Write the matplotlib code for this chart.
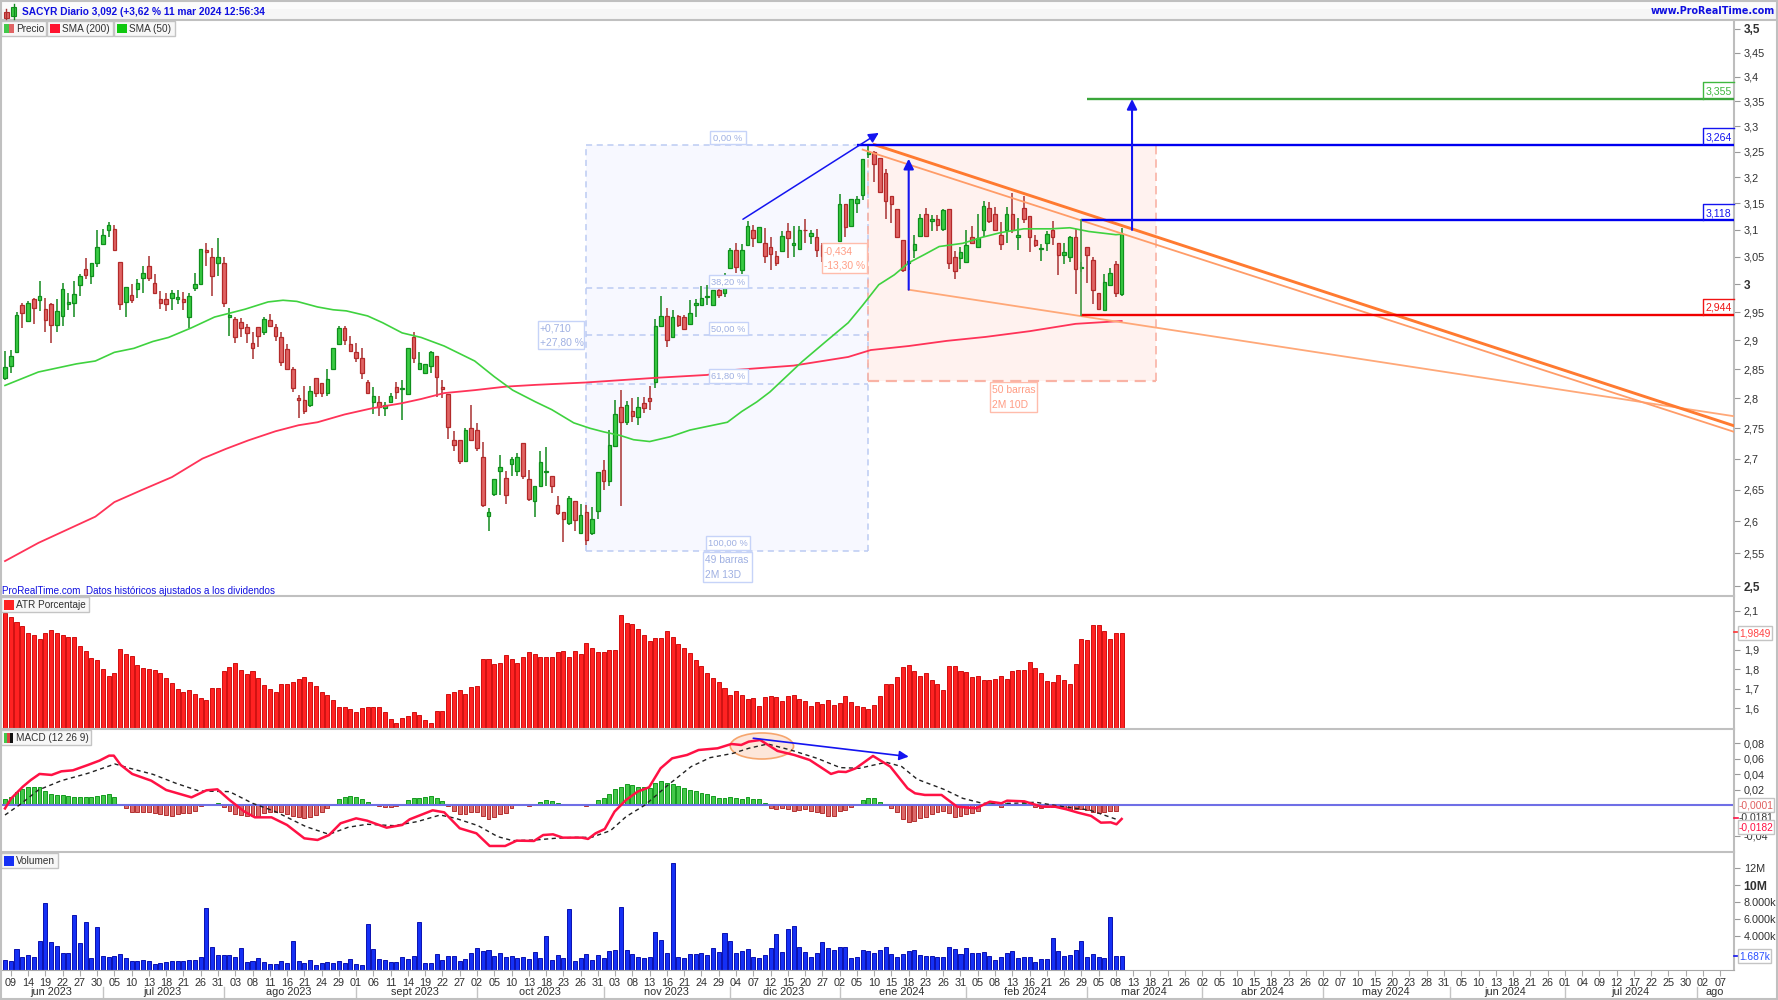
import matplotlib
matplotlib.use('Agg')
import matplotlib.pyplot as plt
from matplotlib.patches import Rectangle, Ellipse
from matplotlib.ticker import NullLocator

plt.rcParams['font.family'] = ['Liberation Sans', 'DejaVu Sans']

# daily candles, 195 sessions
opens = [2.834, 2.856, 2.879, 2.962, 2.934, 2.973, 2.972, 2.955, 2.964, 2.927,
         2.943, 2.964, 2.966, 2.999, 3.028, 3.014, 3.039, 3.073, 3.100, 3.102,
         3.041, 2.968, 2.980, 2.991, 3.012, 3.034, 3.002, 2.973, 2.973, 2.975,
         2.973, 2.973, 2.941, 2.993, 3.001, 3.063, 3.049, 3.039, 3.039, 2.941,
         2.938, 2.933, 2.924, 2.896, 2.924, 2.914, 2.936, 2.924, 2.905, 2.885,
         2.851, 2.800, 2.797, 2.789, 2.835, 2.826, 2.809, 2.851, 2.894, 2.922,
         2.894, 2.879, 2.870, 2.828, 2.794, 2.794, 2.783, 2.794, 2.820, 2.816,
         2.807, 2.905, 2.851, 2.844, 2.856, 2.872, 2.820, 2.807, 2.730, 2.731,
         2.696, 2.750, 2.747, 2.703, 2.608, 2.643, 2.680, 2.669, 2.691, 2.680,
         2.725, 2.667, 2.632, 2.656, 2.679, 2.672, 2.626, 2.615, 2.597, 2.632,
         2.581, 2.615, 2.581, 2.616, 2.682, 2.663, 2.720, 2.786, 2.760, 2.779,
         2.768, 2.792, 2.800, 2.828, 2.926, 2.943, 2.905, 2.943, 2.941, 2.929,
         2.962, 2.962, 2.976, 2.962, 2.989, 2.984, 3.030, 3.063, 3.026, 3.071,
         3.099, 3.078, 3.075, 3.069, 3.052, 3.060, 3.097, 3.071, 3.065, 3.100,
         3.089, 3.087, 3.071, 3.054, 3.036, 3.080, 3.149, 3.108, 3.150, 3.166,
         3.246, 3.250, 3.238, 3.208, 3.164, 3.139, 3.082, 3.039, 3.063, 3.089,
         3.130, 3.117, 3.121, 3.102, 3.139, 3.049, 3.047, 3.041, 3.086, 3.069,
         3.100, 3.141, 3.130, 3.091, 3.100, 3.130, 3.086, 3.141, 3.126, 3.082,
         3.065, 3.076, 3.100, 3.076, 3.054, 3.049, 3.086, 3.030, 3.069, 3.045,
         2.984, 2.954, 2.999, 3.036, 2.982]
highs = [2.882, 2.883, 2.950, 2.966, 2.969, 2.975, 3.006, 2.975, 2.966, 2.973,
         3.002, 2.984, 3.006, 3.019, 3.047, 3.038, 3.099, 3.102, 3.115, 3.110,
         3.041, 2.995, 3.001, 3.010, 3.034, 3.052, 3.019, 2.987, 2.984, 2.989,
         2.989, 2.986, 2.984, 3.021, 3.065, 3.075, 3.067, 3.084, 3.050, 2.957,
         2.941, 2.940, 2.929, 2.915, 2.924, 2.941, 2.947, 2.929, 2.915, 2.894,
         2.853, 2.806, 2.821, 2.821, 2.835, 2.826, 2.851, 2.887, 2.926, 2.926,
         2.907, 2.896, 2.886, 2.832, 2.820, 2.804, 2.794, 2.809, 2.828, 2.832,
         2.887, 2.915, 2.879, 2.858, 2.881, 2.872, 2.832, 2.807, 2.746, 2.731,
         2.750, 2.789, 2.758, 2.727, 2.621, 2.667, 2.706, 2.680, 2.703, 2.709,
         2.725, 2.682, 2.656, 2.712, 2.719, 2.672, 2.639, 2.615, 2.640, 2.632,
         2.627, 2.626, 2.623, 2.679, 2.698, 2.747, 2.797, 2.815, 2.795, 2.800,
         2.802, 2.802, 2.821, 2.938, 2.978, 2.957, 2.954, 2.945, 2.945, 2.971,
         2.973, 2.997, 2.999, 2.989, 2.993, 3.021, 3.067, 3.076, 3.073, 3.117,
         3.110, 3.106, 3.104, 3.086, 3.060, 3.097, 3.113, 3.108, 3.108, 3.121,
         3.100, 3.102, 3.076, 3.063, 3.073, 3.168, 3.149, 3.158, 3.165, 3.236,
         3.262, 3.252, 3.238, 3.216, 3.164, 3.139, 3.082, 3.063, 3.091, 3.130,
         3.141, 3.128, 3.128, 3.139, 3.139, 3.060, 3.069, 3.100, 3.108, 3.130,
         3.154, 3.152, 3.143, 3.115, 3.143, 3.170, 3.123, 3.164, 3.126, 3.091,
         3.073, 3.097, 3.117, 3.076, 3.076, 3.089, 3.102, 3.041, 3.069, 3.049,
         2.984, 3.019, 3.030, 3.043, 3.104]
lows = [2.832, 2.844, 2.879, 2.921, 2.933, 2.929, 2.952, 2.915, 2.896, 2.915,
        2.926, 2.954, 2.941, 2.978, 3.010, 3.001, 3.032, 3.073, 3.086, 3.062,
        2.954, 2.941, 2.966, 2.975, 2.984, 3.006, 2.984, 2.955, 2.952, 2.954,
        2.964, 2.954, 2.921, 2.987, 3.001, 3.034, 2.978, 3.014, 2.959, 2.907,
        2.896, 2.905, 2.896, 2.868, 2.888, 2.910, 2.924, 2.898, 2.856, 2.849,
        2.811, 2.767, 2.773, 2.786, 2.802, 2.802, 2.804, 2.851, 2.892, 2.892,
        2.881, 2.863, 2.833, 2.807, 2.773, 2.771, 2.770, 2.792, 2.799, 2.763,
        2.807, 2.861, 2.849, 2.844, 2.844, 2.802, 2.800, 2.733, 2.712, 2.691,
        2.695, 2.730, 2.712, 2.623, 2.584, 2.639, 2.642, 2.627, 2.672, 2.672,
        2.667, 2.632, 2.607, 2.656, 2.656, 2.645, 2.610, 2.568, 2.594, 2.584,
        2.581, 2.563, 2.579, 2.603, 2.650, 2.656, 2.720, 2.624, 2.755, 2.760,
        2.755, 2.775, 2.781, 2.818, 2.926, 2.889, 2.905, 2.924, 2.919, 2.929,
        2.941, 2.962, 2.962, 2.962, 2.975, 2.976, 3.030, 3.021, 3.019, 3.071,
        3.069, 3.078, 3.038, 3.026, 3.034, 3.060, 3.047, 3.050, 3.065, 3.076,
        3.073, 3.049, 3.041, 3.019, 3.030, 3.080, 3.087, 3.108, 3.132, 3.156,
        3.238, 3.191, 3.170, 3.121, 3.113, 3.087, 3.023, 3.026, 3.047, 3.087,
        3.089, 3.097, 3.097, 3.097, 3.028, 3.010, 3.028, 3.041, 3.075, 3.069,
        3.087, 3.113, 3.097, 3.062, 3.076, 3.095, 3.063, 3.112, 3.058, 3.069,
        3.043, 3.060, 3.071, 3.017, 3.036, 3.041, 2.982, 3.023, 3.002, 2.964,
        2.954, 2.952, 2.997, 2.976, 2.978]
closes = [2.853, 2.872, 2.945, 2.948, 2.966, 2.957, 2.978, 2.936, 2.927, 2.952,
          2.991, 2.968, 2.982, 3.015, 3.017, 3.038, 3.069, 3.091, 3.110, 3.062,
          2.964, 2.995, 2.971, 3.002, 3.021, 3.012, 2.984, 2.966, 2.964, 2.984,
          2.976, 2.968, 2.978, 3.001, 3.065, 3.058, 3.014, 3.050, 2.966, 2.945,
          2.905, 2.921, 2.912, 2.886, 2.907, 2.938, 2.926, 2.908, 2.863, 2.851,
          2.818, 2.797, 2.778, 2.812, 2.809, 2.809, 2.833, 2.887, 2.922, 2.900,
          2.881, 2.870, 2.844, 2.809, 2.804, 2.786, 2.789, 2.804, 2.811, 2.818,
          2.887, 2.870, 2.861, 2.858, 2.879, 2.837, 2.816, 2.752, 2.722, 2.696,
          2.747, 2.730, 2.717, 2.626, 2.615, 2.667, 2.687, 2.642, 2.699, 2.703,
          2.671, 2.635, 2.656, 2.695, 2.680, 2.655, 2.612, 2.603, 2.637, 2.602,
          2.610, 2.571, 2.604, 2.679, 2.663, 2.722, 2.773, 2.760, 2.789, 2.771,
          2.785, 2.784, 2.795, 2.926, 2.943, 2.900, 2.941, 2.927, 2.919, 2.948,
          2.966, 2.975, 2.978, 2.989, 2.980, 2.993, 3.063, 3.032, 3.063, 3.108,
          3.084, 3.106, 3.052, 3.056, 3.039, 3.089, 3.084, 3.076, 3.100, 3.099,
          3.095, 3.063, 3.052, 3.030, 3.067, 3.149, 3.106, 3.158, 3.158, 3.236,
          3.250, 3.226, 3.172, 3.154, 3.149, 3.087, 3.026, 3.043, 3.073, 3.123,
          3.089, 3.121, 3.110, 3.137, 3.038, 3.024, 3.058, 3.071, 3.075, 3.084,
          3.145, 3.117, 3.100, 3.073, 3.130, 3.100, 3.091, 3.121, 3.086, 3.071,
          3.067, 3.093, 3.086, 3.054, 3.058, 3.086, 3.028, 3.032, 3.054, 2.989,
          2.955, 3.004, 3.021, 2.984, 3.092]

# moving averages, read at the bends of the line
sma50_x = [0, 5.8, 12.4, 15.7, 19, 22.4, 25.7, 28.4, 32.4, 36.4, 41.7, 45.7, 48.3, 50.7, 54.3, 57, 59.3, 63,
           65.6, 69, 72.3, 76.3, 81.6, 85, 88.2, 92.2, 95, 98.8, 101.6, 104, 106.9, 109.2, 112, 115.6, 119,
           122.5, 125.5, 128, 130.6, 132.9, 138.5, 142.5, 146.5, 149, 151.8, 154.5, 157, 159.7, 162.3, 166.4,
           169.7, 173, 177, 181.7, 185, 188.3, 193, 194]
sma50_y = [2.822, 2.845, 2.859, 2.864, 2.879, 2.886, 2.898, 2.905, 2.922, 2.941, 2.955, 2.968, 2.971, 2.969,
           2.959, 2.954, 2.952, 2.943, 2.931, 2.913, 2.905, 2.890, 2.864, 2.837, 2.814, 2.794, 2.781, 2.759,
           2.750, 2.744, 2.738, 2.731, 2.728, 2.736, 2.747, 2.754, 2.760, 2.778, 2.794, 2.811, 2.863, 2.897,
           2.931, 2.962, 2.999, 3.017, 3.039, 3.054, 3.069, 3.075, 3.086, 3.095, 3.102, 3.102, 3.104, 3.097,
           3.091, 3.092]
sma200_x = [0, 5.8, 15.7, 19, 23.7, 29, 34.3, 38.4, 42.3, 47, 51, 54.3, 59, 63.6, 69, 72.3, 76.3, 81.6, 87,
            92.2, 100.8, 113, 122, 126, 137, 146.5, 150.4, 157, 163.6, 170.4, 178, 186, 194]
sma200_y = [2.538, 2.566, 2.607, 2.630, 2.649, 2.670, 2.700, 2.716, 2.730, 2.745, 2.755, 2.760, 2.773, 2.783,
            2.792, 2.799, 2.809, 2.814, 2.820, 2.823, 2.827, 2.835, 2.840, 2.848, 2.856, 2.871, 2.883, 2.890,
            2.899, 2.906, 2.916, 2.929, 2.934]

# ATR in percent
atr = [2.087, 2.07, 2.041, 2.022, 1.985, 1.976, 1.954, 1.985, 2.002, 1.985,
       1.976, 1.966, 1.966, 1.92, 1.894, 1.856, 1.848, 1.803, 1.766, 1.78,
       1.904, 1.88, 1.867, 1.822, 1.809, 1.803, 1.795, 1.78, 1.756, 1.728,
       1.699, 1.685, 1.694, 1.672, 1.653, 1.643, 1.704, 1.704, 1.791, 1.812,
       1.831, 1.795, 1.776, 1.79, 1.756, 1.718, 1.699, 1.685, 1.723, 1.723,
       1.733, 1.75, 1.761, 1.733, 1.713, 1.685, 1.667, 1.643, 1.609, 1.609,
       1.595, 1.581, 1.6, 1.609, 1.609, 1.609, 1.581, 1.547, 1.523, 1.552,
       1.561, 1.579, 1.566, 1.542, 1.523, 1.585, 1.585, 1.675, 1.685, 1.694,
       1.675, 1.708, 1.713, 1.851, 1.851, 1.827, 1.832, 1.874, 1.851, 1.832,
       1.865, 1.889, 1.88, 1.862, 1.862, 1.862, 1.889, 1.894, 1.865, 1.894,
       1.88, 1.933, 1.909, 1.889, 1.889, 1.897, 1.897, 2.079, 2.036, 2.031,
       2.007, 1.974, 1.945, 1.959, 1.959, 1.998, 1.964, 1.932, 1.908, 1.884,
       1.846, 1.817, 1.779, 1.756, 1.737, 1.704, 1.670, 1.689, 1.670, 1.646,
       1.651, 1.614, 1.656, 1.665, 1.656, 1.638, 1.662, 1.670, 1.646, 1.638,
       1.614, 1.632, 1.622, 1.641, 1.619, 1.627, 1.662, 1.632, 1.614, 1.609,
       1.595, 1.617, 1.665, 1.723, 1.723, 1.761, 1.812, 1.822, 1.793, 1.766,
       1.779, 1.747, 1.723, 1.694, 1.817, 1.817, 1.790, 1.785, 1.761, 1.766,
       1.747, 1.747, 1.750, 1.766, 1.750, 1.790, 1.795, 1.798, 1.836, 1.809,
       1.779, 1.742, 1.737, 1.769, 1.745, 1.723, 1.827, 1.956, 1.950, 2.027,
       2.027, 1.998, 1.956, 1.985, 1.985]

# MACD histogram, line and signal
hist = [.0073, .0108, .0173, .0203, .0229, .0229, .0229, .0181, .0143, .0125,
        .0125, .0112, .0099, .0099, .0099, .0099, .0112, .0125, .0138, .0099,
        0, -.0043, -.0086, -.0095, -.0091, -.0086, -.0108, -.0121, -.0134, -.0138,
        -.0121, -.0108, -.0104, -.0078, -.0013, .0013, .0013, .0026, -.0026, -.0078,
        -.0117, -.0134, -.0138, -.0147, -.0155, -.0108, -.0086, -.0091, -.0095, -.0117,
        -.0147, -.016, -.0168, -.0151, -.013, -.0095, -.0043, .0013, .0073, .0108,
        .0112, .0099, .0073, .0035, .0013, -.0013, -.0026, -.0026, -.0013, .0013,
        .006, .0086, .0095, .0099, .0112, .0086, .0047, -.0013, -.0078, -.0121,
        -.0112, -.0095, -.0095, -.0147, -.0181, -.0155, -.0121, -.0099, -.0043, 0,
        0, -.0013, 0, .0035, .006, .0047, .0022, 0, .0013, 0,
        0, -.0013, 0, .006, .0086, .0143, .0203, .0229, .0268, .0255,
        .0238, .0229, .0216, .0281, .0311, .0289, .0268, .0251, .0216, .0194,
        .0181, .016, .0143, .0121, .0086, .0086, .0099, .0086, .0073, .0099,
        .0073, .0073, .003, -.0035, -.0056, -.0043, -.0052, -.0073, -.006, -.0056,
        -.0073, -.0095, -.0099, -.0147, -.0138, -.0073, -.0065, -.0022, 0, .006,
        .0095, .0095, .0043, 0, -.0035, -.0086, -.0186, -.0216, -.0203, -.0173,
        -.0155, -.0121, -.0095, -.0073, -.0108, -.0151, -.0138, -.0121, -.0104, -.0073,
        .0013, .0022, .0017, -.0022, .003, .0009, .0004, .003, .0009, -.0022,
        -.0043, -.0026, -.0022, -.0026, -.0043, -.006, -.0056, -.0056, -.006, -.0086,
        -.0108, -.0095, -.0078, -.0073, -.0001]
macd_x = [0, 1.1, 3.1, 4.5, 6, 8.1, 9.8, 11.8, 14.4, 16.4, 18.1, 18.9, 20.1, 22.1, 25.4, 28, 32.4, 35, 36.9, 39,
          41.6, 43.4, 46.3, 49, 52, 54.3, 56.3, 58.3, 61, 62.9, 66.3, 69, 70.3, 74.3, 76.3, 79, 81.9, 84.2,
          86.9, 88.9, 91.9, 93.5, 95.2, 96.9, 100.2, 101.3, 102.6, 104.2, 105.9, 107.9, 109.9, 111.9, 113.9,
          115.9, 118.5, 120.5, 123.8, 126.2, 127.9, 129.2, 131.2, 134.2, 137.1, 139.8, 143.5, 144.8, 146.1,
          147.8, 150.8, 153.8, 156.8, 158.1, 159.8, 162.7, 165.4, 168.7, 171.1, 173.1, 174.1, 177.1, 180.1,
          182.4, 184.4, 186.4, 188.7, 190.4, 192.1, 193.1, 194]
macd_y = [-.0045, .0086, .0237, .0324, .0402, .0389, .0436, .0449, .0518, .0574, .0639, .0639, .0518, .0402,
          .0315, .0194, .0099, .019, .0203, .0065, -.0086, -.016, -.016, -.0259, -.0432, -.0453, -.0389, -.0237,
          -.0173, -.0203, -.0294, -.0259, -.0186, -.0069, -.0095, -.0302, -.0367, -.0531, -.0531, -.0462, -.0466,
          -.0389, -.038, -.0423, -.0423, -.044, -.0367, -.0311, -.0086, .0065, .0173, .0229, .0475, .0604, .0648,
          .0712, .0734, .079, .0777, .082, .0842, .07, .0648, .0583, .0402, .0432, .0427, .0475, .0635, .0497,
          .0216, .0151, .013, .013, -.0022, -.0043, .0043, .0022, .0056, .0047, -.0022, -.0022, -.0056, -.0099,
          -.0142, -.0229, -.0225, -.025, -.0181]
signal_x = [0, 2.5, 5.8, 9.8, 14.4, 19.1, 21.7, 25.7, 29.7, 33.7, 39, 43, 47, 52.3, 56.3, 59.6, 62.9, 67.6, 71.6,
            75.6, 78.3, 82.2, 85.6, 88.2, 92.2, 95.5, 98.9, 101.9, 105.2, 107.9, 111.2, 115.2, 119.2, 122.5,
            126.5, 129.2, 132.5, 136.5, 141.1, 145.1, 148.4, 153.1, 155.8, 158.5, 163.1, 166.4, 169.8, 175.1,
            179.1, 183.8, 188.4, 193.1]
signal_y = [-.013, 0, .0194, .0315, .041, .0531, .0475, .0397, .0281, .0181, .0173, .0022, -.0086, -.0281, -.038,
            -.0289, -.025, -.0268, -.0216, -.013, -.0173, -.0268, -.041, -.0462, -.0453, -.0432, -.0419, -.0419,
            -.0332, -.0151, 0, .0259, .0497, .0613, .0669, .0734, .079, .0712, .0604, .0484, .0475, .0553, .0497,
            .0332, .0203, .0086, .0022, .0022, .0035, -.0022, -.0065, -.0186]

# volume in millions
volume = [1.18, 1.06, 2.43, 1.57, 1.77, 1.57, 3.42, 7.93, 3.34, 2.83,
          2.04, 2.04, 6.48, 3.14, 5.69, 1.37, 5.03, 1.69, 1.49, 1.69,
          1.88, 1.37, 1.06, 1.06, 1.18, 1.06, 0.71, 0.79, 0.90, 1.06,
          1.06, 1.06, 1.18, 1.18, 1.49, 7.26, 2.67, 1.77, 1.77, 1.77,
          1.57, 2.55, 0.90, 1.06, 1.37, 0.90, 0.71, 0.71, 1.06, 0.79,
          3.42, 1.06, 0.79, 1.18, 0.59, 0.79, 0.90, 0.79, 1.06, 0.79,
          1.26, 0.71, 0.59, 5.42, 2.43, 1.26, 1.18, 0.90, 0.90, 1.57,
          1.26, 1.69, 5.61, 0.79, 0.79, 1.88, 1.18, 1.69, 1.69, 1.06,
          1.26, 2.04, 2.55, 2.24, 2.36, 1.69, 2.04, 1.49, 1.69, 1.37,
          1.49, 1.26, 2.12, 1.37, 4.04, 1.18, 1.77, 1.37, 7.15, 1.06,
          1.37, 1.88, 1.18, 1.77, 1.37, 2.24, 2.36, 7.38, 2.36, 1.88,
          1.57, 1.37, 1.57, 4.52, 3.53, 1.96, 12.56, 1.57, 1.37, 1.88,
          1.88, 2.04, 1.77, 2.55, 2.12, 4.32, 3.42, 1.96, 2.24, 2.43,
          1.57, 1.37, 1.77, 2.55, 4.2, 2.12, 4.83, 5.18, 2.67, 2.12,
          1.57, 1.96, 3.34, 2.55, 2.36, 2.75, 2.67, 1.37, 1.49, 2.36,
          2.24, 1.96, 2.36, 2.67, 1.88, 1.49, 1.88, 2.24, 2.36, 1.77,
          1.69, 1.69, 1.57, 1.57, 2.67, 2.43, 1.88, 2.55, 1.96, 1.96,
          2.12, 1.69, 1.18, 1.49, 2.04, 2.24, 1.37, 1.57, 1.49, 0.90,
          1.26, 1.26, 3.73, 2.24, 1.69, 1.77, 2.36, 3.42, 1.57, 1.88,
          1.49, 1.37, 6.28, 1.69, 1.69]

# price levels and drawn objects
fib_top = 3.264
fib_low = 2.554
fib_levels = [0.382, 0.5, 0.618]
box_red_low = 2.830
level_values = [3.355, 3.264, 3.118, 2.944]
level_starts = [188, 148, 187, 187]
level_colors = ['#3aa63a', '#0000f0', '#0000f0', '#f00000']
trend_thick = ([151, 300.4], [3.264, 2.754])
trend_thin = ([149, 300.4], [3.254, 2.744])
trend_low = ([157, 300.4], [2.990, 2.770])

# axis labels
price_ticks = [3.5, 3.45, 3.4, 3.35, 3.3, 3.25, 3.2, 3.15, 3.1, 3.05, 3, 2.95, 2.9, 2.85, 2.8, 2.75, 2.7, 2.65, 2.6,
               2.55, 2.5]
price_bold = [3.5, 3, 2.5]
atr_ticks = [2.1, 1.9, 1.8, 1.7, 1.6]
macd_ticks = [0.08, 0.06, 0.04, 0.02, -0.04]
vol_ticks = [12, 10, 8, 6, 4]
vol_labels = ['12M', '10M', '8.000k', '6.000k', '4.000k']
day_labels = ['09', '14', '19', '22', '27', '30', '05', '10', '13', '18', '21', '26', '31', '03', '08', '11', '16',
              '21', '24', '29', '01', '06', '11', '14', '19', '22', '27', '02', '05', '10', '13', '18', '23', '26',
              '31', '03', '08', '13', '16', '21', '24', '29', '04', '07', '12', '15', '20', '27', '02', '05', '10',
              '15', '18', '23', '26', '31', '05', '08', '13', '16', '21', '26', '29', '05', '08', '13', '18', '21',
              '26', '02', '05', '10', '15', '18', '23', '26', '02', '07', '10', '15', '20', '23', '28', '31', '05',
              '10', '13', '18', '21', '26', '01', '04', '09', '12', '17', '22', '25', '30', '02', '07']
month_names = ['jun 2023', 'jul 2023', 'ago 2023', 'sept 2023', 'oct 2023', 'nov 2023', 'dic 2023', 'ene 2024',
               'feb 2024', 'mar 2024', 'abr 2024', 'may 2024', 'jun 2024', 'jul 2024', 'ago']
month_pos = [8.1, 27.4, 49.3, 71.2, 92.9, 114.9, 135.3, 155.8, 177.3, 197.9, 218.4, 239.9, 260.7, 282.3, 297.1]
month_seps = [17, 38, 61, 82, 104, 126, 145, 167, 188, 208, 229, 251, 271, 294]

W, H = 1778, 1000
GRAY = '#bdbdbd'
TXT = '#303030'
fig = plt.figure(figsize=(W / 100, H / 100), dpi=100, facecolor='white')


def pane(top, bottom):
    ax = fig.add_axes([2 / W, 1 - bottom / H, 1732 / W, (bottom - top) / H])
    ax.set_xlim(-0.52, 300.38)
    ax.set_xticks([])
    ax.yaxis.tick_right()
    ax.tick_params(axis='y', length=4, width=0.8, color='#999999', labelsize=7.8, labelcolor=TXT, pad=3)
    for s in ['top', 'left', 'bottom']:
        ax.spines[s].set_visible(False)
    ax.spines['right'].set_color(GRAY)
    ax.spines['right'].set_linewidth(1.5)
    return ax


def comma(v):
    return ('%g' % v).replace('.', ',')


n = range(len(closes))

# price pane
ax = pane(20, 596)
ax.set_yscale('log')
ax.set_ylim(2.485, 3.519)
ax.yaxis.set_minor_locator(NullLocator())
ax.set_yticks(price_ticks)
ax.set_yticklabels([comma(t) for t in price_ticks])
ax.yaxis.set_minor_locator(NullLocator())
for lab, t in zip(ax.get_yticklabels(), price_ticks):
    if t in price_bold:
        lab.set_fontweight('bold')
        lab.set_fontsize(8.5)

ax.add_patch(Rectangle((101, fib_low), 49, fib_top - fib_low, fc='#f7f8ff', ec='none', zorder=1))
ax.add_patch(Rectangle((150, box_red_low), 50, fib_top - box_red_low, fc='#fff2ef', ec='none', zorder=1))
blue_dash = dict(color='#bccbf2', lw=1.1, ls=(0, (4, 3)), zorder=1.5)
red_dash = dict(color='#f9b3a5', lw=1.2, ls=(0, (5, 3)), zorder=1.5)
ax.plot([101, 101], [fib_low, fib_top], **blue_dash)
ax.plot([150, 150], [fib_low, fib_top], **blue_dash)
ax.plot([101, 150], [fib_top, fib_top], **blue_dash)
ax.plot([101, 150], [fib_low, fib_low], **blue_dash)
for f in fib_levels:
    lv = fib_top - f * (fib_top - fib_low)
    ax.plot([101, 150], [lv, lv], **blue_dash)
ax.plot([200, 200], [box_red_low, fib_top], **red_dash)
ax.plot([150, 200], [box_red_low, box_red_low], color='#f9b3a5', lw=1.6, ls=(0, (5, 3)), zorder=1.5)
ax.plot([150, 150], [box_red_low, fib_top], **red_dash)

for i in n:
    up = closes[i] >= opens[i]
    face, edge, wick = ('#3acb44', '#0f8f1c', '#128a1e') if up else ('#e06464', '#b32a2a', '#a83232')
    ax.plot([i, i], [lows[i], highs[i]], color=wick, lw=1.1, zorder=3, solid_capstyle='butt')
    lo, hi = min(opens[i], closes[i]), max(opens[i], closes[i])
    ax.add_patch(Rectangle((i - 0.31, lo), 0.62, hi - lo, fc=face, ec=edge, lw=0.9, zorder=3.2))

ax.plot(sma200_x, sma200_y, color='#ff3358', lw=1.3, zorder=4)
ax.plot(sma50_x, sma50_y, color='#3fd23f', lw=1.2, zorder=4)

ax.plot(trend_low[0], trend_low[1], color='#ffa878', lw=1.3, zorder=4.5)
ax.plot(trend_thin[0], trend_thin[1], color='#ff9c68', lw=1.3, zorder=4.5)
ax.plot(trend_thick[0], trend_thick[1], color='#ff7a30', lw=2.1, zorder=4.6)

for v, s, c in zip(level_values, level_starts, level_colors):
    ax.plot([s, 300.38], [v, v], color=c, lw=1.7, zorder=5, solid_capstyle='butt')
ax.plot([187, 187], [2.944, 3.118], color='#4f9f4f', lw=1.3, zorder=5)


def arrow(a, p0, p1, ms=15, lw=1.5):
    a.annotate('', xy=p1, xytext=p0, zorder=6,
               arrowprops=dict(arrowstyle='-|>', color='#1414f0', lw=lw, mutation_scale=ms, shrinkA=0, shrinkB=0))


arrow(ax, (157, 2.990), (157, 3.236))
arrow(ax, (195.8, 3.100), (195.8, 3.355))
arrow(ax, (128.2, 3.120), (151.8, 3.287), lw=1.1)

# ATR pane
ax2 = pane(596, 729)
ax2.set_ylim(1.494, 2.176)
ax2.bar(n, atr, width=0.7, color='#ff2222', edgecolor='#d01010', lw=0.7)
ax2.set_yticks(atr_ticks)
ax2.set_yticklabels([comma(t) for t in atr_ticks])

# MACD pane
ax3 = pane(729, 852)
ax3.set_ylim(-0.0609, 0.0984)
ax3.add_patch(Ellipse((131.5, 0.0764), 11, 0.0337, fc='#fde6da', ec='#f6a66e', lw=1.2, zorder=1))
hist_colors = ['#43c84a' if h >= 0 else '#dc6a6a' for h in hist]
hist_edges = ['#149a1e' if h >= 0 else '#b33030' for h in hist]
ax3.bar(n, hist, width=0.68, color=hist_colors, edgecolor=hist_edges, lw=0.7, zorder=2)
ax3.axhline(0, color='#6f6fe6', lw=1.5, zorder=2.5)
ax3.plot(signal_x, signal_y, color='#222222', lw=1, ls=(0, (3, 2.5)), zorder=3)
ax3.plot(macd_x, macd_y, color='#ff1144', lw=1.8, zorder=4)
arrow(ax3, (130, 0.0864), (157, 0.0626), ms=14, lw=1.2)
ax3.set_yticks(macd_ticks)
ax3.set_yticklabels([comma(t) for t in macd_ticks])

# volume pane
ax4 = pane(852, 970)
ax4.set_ylim(0, 13.9)
ax4.bar(n, volume, width=0.7, color='#1530f5', edgecolor='#0a10b0', lw=0.7)
ax4.set_yticks(vol_ticks)
ax4.set_yticklabels(vol_labels)
ax4.get_yticklabels()[1].set_fontweight('bold')
ax4.get_yticklabels()[1].set_fontsize(8.8)
ax4.spines['bottom'].set_visible(True)
ax4.spines['bottom'].set_color('#aaaaaa')
ax4.set_xticks([1 + 3 * k for k in range(len(day_labels))])
ax4.set_xticklabels(day_labels)
ax4.tick_params(axis='x', length=4, width=0.8, color='#aaaaaa', labelsize=7.8, labelcolor=TXT, pad=1.5)

# month row below the day labels
for name, p in zip(month_names, month_pos):
    ax4.annotate(name, (p, 0), xycoords=('data', 'axes fraction'), xytext=(0, -22), textcoords='offset pixels',
                 ha='center', va='center', fontsize=7.8, color=TXT, annotation_clip=False)

# overlay in pixels for the frame, legends and value labels
ov = fig.add_axes([0, 0, 1, 1], facecolor='none', zorder=10)
ov.set_xlim(0, W)
ov.set_ylim(H, 0)
ov.axis('off')

for p in month_seps:
    x = 2 + (p + 0.52) * 1732 / 300.9
    ov.plot([x, x], [986.5, 999], color='#c4c4c4', lw=1)

ov.add_patch(Rectangle((0, 0), W, 20, fc='#f6f6f6', ec='none'))
ov.add_patch(Rectangle((0, 0), W, 9, fc='#fbfbfb', ec='none'))
ov.plot([0, W], [20, 20], color='#c0c0c0', lw=1.5)
ov.plot([0, W], [0.5, 0.5], color='#c0c0c0', lw=1.5)
ov.plot([0, W], [999, 999], color='#c0c0c0', lw=1.5)
ov.plot([1, 1], [0, 1000], color='#c0c0c0', lw=1.5)
ov.plot([W - 1, W - 1], [0, 1000], color='#c0c0c0', lw=1.5)
for y in [596, 729, 852]:
    ov.plot([0, 1734], [y, y], color='#c0c0c0', lw=1.5)

# header candle icon
ov.plot([6, 6], [9, 19], color='#a83232', lw=1)
ov.add_patch(Rectangle((3.5, 11.5), 5, 6, fc='#e06464', ec='#b32a2a', lw=0.8))
ov.plot([13.5, 13.5], [4, 19], color='#128a1e', lw=1)
ov.add_patch(Rectangle((11, 7), 5, 9, fc='#3acb44', ec='#0f8f1c', lw=0.8))

ov.text(22, 12, 'SACYR Diario 3,092 (+3,62 % 11 mar 2024 12:56:34', color='#1010e0', fontsize=7.25, fontweight='bold',
        va='center', ha='left')
ov.text(1775, 11.5, 'www.ProRealTime.com', color='#1010e0', fontsize=6.9, fontweight='bold', va='center', ha='right',
        family='DejaVu Sans')
ov.text(2.5, 591, 'ProRealTime.com  Datos históricos ajustados a los dividendos', color='#1010e0', fontsize=7.1,
        va='center', ha='left')


def legend(x0, x1, y0, y1, label, colors):
    ov.add_patch(Rectangle((x0, y0), x1 - x0, y1 - y0, fc='#f7f7f7', ec='#c4c4c4', lw=1))
    w = 9.5 / len(colors)
    for k, c in enumerate(colors):
        ov.add_patch(Rectangle((x0 + 3 + k * w, y0 + 3), w, 9.5, fc=c, ec='none'))
    ov.text(x0 + 15, (y0 + y1) / 2 + 0.5, label, color=TXT, fontsize=7.2, va='center', ha='left')


legend(1, 46, 20.5, 35.5, 'Precio', ['#43c84a', '#e06464'])
legend(47, 113, 20.5, 35.5, 'SMA (200)', ['#ff1430'])
legend(114, 175, 20.5, 35.5, 'SMA (50)', ['#10c810'])
legend(1, 89, 597, 612, 'ATR Porcentaje', ['#ff2222'])
legend(1, 91, 730, 745, 'MACD (12 26 9)', ['#43c84a', '#dc4040', '#111111'])
legend(1, 58, 853, 868, 'Volumen', ['#1530f5'])


def box(x0, x1, y0, y1, lines, color, edge, align='center', size=6.7):
    ov.add_patch(Rectangle((x0, y0), x1 - x0, y1 - y0, fc='white', ec=edge, lw=1, zorder=4))
    h = (y1 - y0) / len(lines)
    for k, t in enumerate(lines):
        tx = (x0 + x1) / 2 if align == 'center' else x0 + 2
        ov.text(tx, y0 + h * (k + 0.5) + 0.5, t, color=color, fontsize=size, va='center', ha=align, zorder=5)


bl_t, bl_e = '#9fb0e2', '#c6d3f8'
rd_t, rd_e = '#ff9d85', '#ffbcab'
box(710, 746, 131, 144, ['0,00 %'], bl_t, bl_e)
box(709, 748, 275, 288, ['38,20 %'], bl_t, bl_e)
box(709, 748, 322, 335, ['50,00 %'], bl_t, bl_e)
box(709, 748, 369, 383, ['61,80 %'], bl_t, bl_e)
box(706, 750, 536, 550, ['100,00 %'], bl_t, bl_e)
box(703, 752, 552, 582, ['49 barras', '2M 13D'], bl_t, bl_e, 'left', 7.4)
box(538, 584, 321, 349, ['+0,710', '+27,80 %'], bl_t, bl_e, 'left', 7.4)
box(822, 867, 243, 273, ['-0,434', '-13,30 %'], rd_t, rd_e, 'left', 7.4)
box(990, 1037, 382, 412, ['50 barras', '2M 10D'], rd_t, rd_e, 'left', 7.4)

for y0, y1, t, c in [(82, 99, '3,355', '#3fb83f'), (128, 144, '3,264', '#1414f0'), (204, 220, '3,118', '#1414f0'),
                     (298.5, 315, '2,944', '#f01414')]:
    ov.plot([1703, 1703, 1734], [y1, y0, y0], color=c, lw=1)
    ov.text(1718.5, (y0 + y1) / 2 + 1, t, color=c, fontsize=7.6, ha='center', va='center')

# value labels on the right scale
ov.plot([1734, 1738], [632, 632], color='#ff3333', lw=1.2)
box(1738, 1772, 625.5, 640, ['1,9849'], '#ff4444', '#c4c4c4', size=7.4)
box(1738, 1774, 798, 812, ['-0,0001'], '#e06060', '#c4c4c4', size=7.4)
ov.text(1756, 818, '-0,0181', color=TXT, fontsize=7.4, ha='center', va='center', zorder=3)
ov.plot([1734, 1738], [818, 818], color='#ff1144', lw=1.2)
box(1738, 1774, 820, 834, ['-0,0182'], '#ff1144', '#c4c4c4', size=7.4)
ov.plot([1734, 1738], [956, 956], color='#1414f0', lw=1.2)
box(1738, 1771, 949, 963, ['1.687k'], '#2a50ff', '#c4c4c4', size=7.4)

fig.savefig('out.png', dpi=100)
